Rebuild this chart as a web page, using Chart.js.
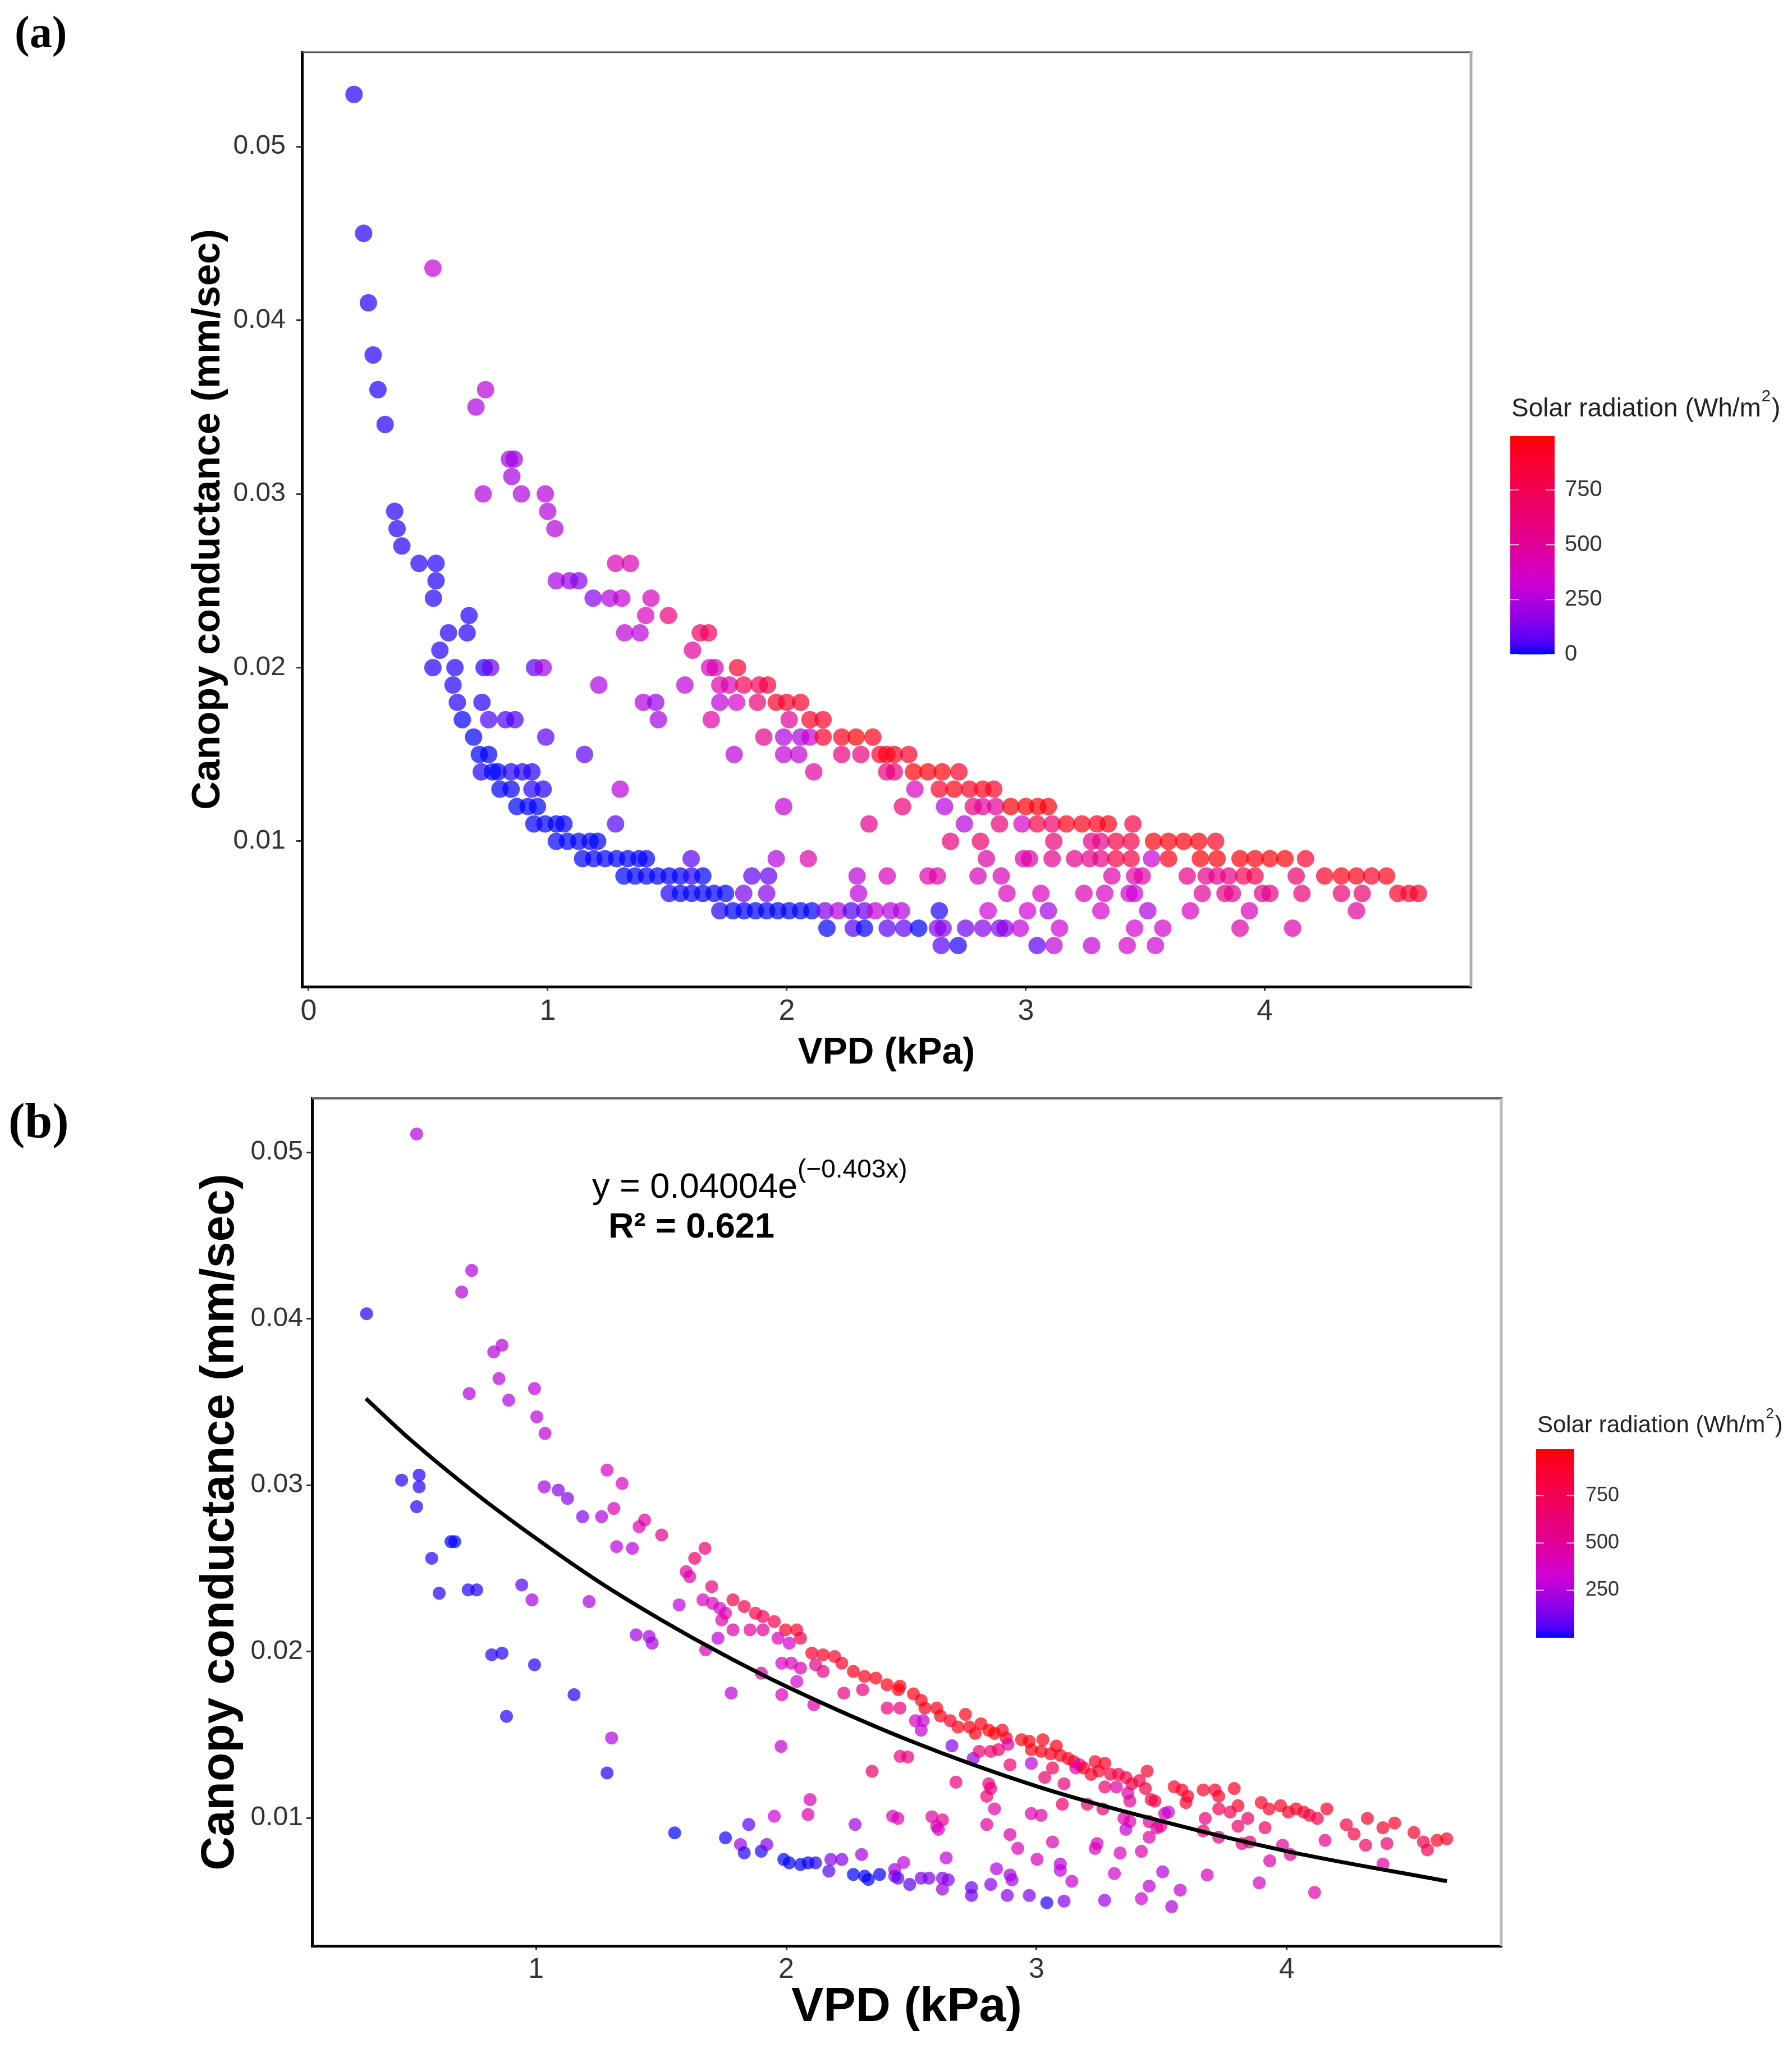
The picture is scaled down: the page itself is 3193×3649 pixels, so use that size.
<!DOCTYPE html>
<html><head><meta charset="utf-8">
<script src="https://cdn.jsdelivr.net/npm/chart.js@4.4.0/dist/chart.umd.min.js"></script>
<style>
html,body{margin:0;padding:0;background:#fff;width:3193px;height:3649px;overflow:hidden;}
.w{position:absolute;left:0;}
#wa{top:0;width:3193px;height:1950px;}
#wb{top:1880px;width:3193px;height:1769px;}
</style></head><body>
<div class="w" id="wa"><canvas id="ca" width="3193" height="1950" style="width:3193px;height:1950px"></canvas></div>
<div class="w" id="wb"><canvas id="cb" width="3193" height="1769" style="width:3193px;height:1769px"></canvas></div>
<script>
// ---------- tick labels ----------
const xTicksA = [0, 1, 2, 3, 4];
const xTicksB = [1, 2, 3, 4];
const yTicks = [0.01, 0.02, 0.03, 0.04, 0.05];
const radTicksA = [0, 250, 500, 750];
const radTicksB = [250, 500, 750];

// ---------- panel (a): VPD (kPa), canopy conductance (mm/sec), solar radiation (Wh/m2) ----------
const aVpd = [
 0.19, 0.23, 0.52, 0.25, 0.27, 0.29,0.74, 0.70, 0.32, 0.84,0.86, 0.85, 0.73,0.89,0.99, 0.36,1.00, 0.37,1.03, 0.39,
 0.462,0.533,1.284,1.346,
 0.533,1.036,1.091,1.13,
 0.522,1.19,1.26,1.31,1.432,
 0.671,1.41,1.505,
 0.585,0.663,1.322,1.386,1.638,1.673,
 0.549,1.606,
 0.52,0.612,0.734,0.761,0.945,0.981,1.677,1.70,1.794,
 0.604,1.214,1.574,1.72,1.76,1.82,1.885,1.92,
 0.622,0.725,1.40,1.452,1.72,1.79,1.877,1.956,2.0,2.058,
 0.643,0.753,0.824,0.863,1.463,1.684,2.01,2.097,2.152,
 0.69,0.992,1.904,1.987,2.058,2.097,2.152,2.23,2.29,2.36,
 0.714,0.753,1.154,1.78,1.987,2.05,2.23,2.31,2.39,2.418,2.45,2.51,
 0.722,0.769,0.792,0.847,0.894,0.934,2.113,2.418,2.45,2.53,2.59,2.65,2.72,
 0.80,0.847,0.934,0.981,1.303,2.536,2.638,2.70,2.764,2.82,2.866,
 0.871,0.918,0.957,1.987,2.484,2.66,2.78,2.82,2.874,2.937,3.0,3.05,3.094,
 0.942,0.989,1.036,1.068,1.284,2.344,2.743,2.89,2.984,3.047,3.11,3.17,3.235,3.298,3.345,3.448,
 1.036,1.083,1.13,1.177,1.209,2.685,2.81,3.117,3.275,3.314,3.377,3.44,3.534,3.597,3.66,3.723,3.794,
 1.146,1.193,1.24,1.288,1.335,1.382,1.413,1.60,1.956,2.09,2.835,2.99,3.015,3.11,3.204,3.267,3.314,3.377,3.44,3.526,3.597,3.73,3.80,3.896,3.959,4.021,4.084,4.17,
 1.319,1.366,1.413,1.46,1.508,1.555,1.602,1.649,1.854,1.924,2.294,2.42,2.591,2.63,2.80,2.897,3.36,3.455,3.487,3.675,3.754,3.80,3.849,3.911,3.959,4.131,4.25,4.32,4.383,4.446,4.509,
 1.508,1.555,1.602,1.649,1.696,1.744,1.82,1.916,2.30,2.921,3.063,3.243,3.33,3.432,3.455,3.738,3.833,3.864,3.99,4.021,4.155,4.32,4.407,4.556,4.603,4.642,
 1.72,1.775,1.822,1.869,1.916,1.963,2.01,2.058,2.105,2.16,2.215,2.27,2.325,2.37,2.434,2.48,2.638,2.842,3.007,3.094,3.314,3.51,3.688,3.935,4.383,
 2.168,2.278,2.325,2.42,2.49,2.552,2.63,2.654,2.748,2.82,2.89,2.913,2.976,3.141,3.455,3.573,3.896,4.116,
 2.646,2.717,3.047,3.118,3.275,3.424,3.542
];
const aGc = [
 0.053, 0.045, 0.043, 0.041, 0.038, 0.036,0.036, 0.035, 0.034, 0.032,0.032, 0.031, 0.030,0.030,0.030, 0.029,0.029, 0.028,0.028, 0.027,
 0.026,0.026,0.026,0.026,
 0.025,0.025,0.025,0.025,
 0.024,0.024,0.024,0.024,0.024,
 0.023,0.023,0.023,
 0.022,0.022,0.022,0.022,0.022,0.022,
 0.021,0.021,
 0.020,0.020,0.020,0.020,0.020,0.020,0.020,0.020,0.020,
 0.019,0.019,0.019,0.019,0.019,0.019,0.019,0.019,
 0.018,0.018,0.018,0.018,0.018,0.018,0.018,0.018,0.018,0.018,
 0.017,0.017,0.017,0.017,0.017,0.017,0.017,0.017,0.017,
 0.016,0.016,0.016,0.016,0.016,0.016,0.016,0.016,0.016,0.016,
 0.015,0.015,0.015,0.015,0.015,0.015,0.015,0.015,0.015,0.015,0.015,0.015,
 0.014,0.014,0.014,0.014,0.014,0.014,0.014,0.014,0.014,0.014,0.014,0.014,0.014,
 0.013,0.013,0.013,0.013,0.013,0.013,0.013,0.013,0.013,0.013,0.013,
 0.012,0.012,0.012,0.012,0.012,0.012,0.012,0.012,0.012,0.012,0.012,0.012,0.012,
 0.011,0.011,0.011,0.011,0.011,0.011,0.011,0.011,0.011,0.011,0.011,0.011,0.011,0.011,0.011,0.011,
 0.010,0.010,0.010,0.010,0.010,0.010,0.010,0.010,0.010,0.010,0.010,0.010,0.010,0.010,0.010,0.010,0.010,
 0.009,0.009,0.009,0.009,0.009,0.009,0.009,0.009,0.009,0.009,0.009,0.009,0.009,0.009,0.009,0.009,0.009,0.009,0.009,0.009,0.009,0.009,0.009,0.009,0.009,0.009,0.009,0.009,
 0.008,0.008,0.008,0.008,0.008,0.008,0.008,0.008,0.008,0.008,0.008,0.008,0.008,0.008,0.008,0.008,0.008,0.008,0.008,0.008,0.008,0.008,0.008,0.008,0.008,0.008,0.008,0.008,0.008,0.008,0.008,
 0.007,0.007,0.007,0.007,0.007,0.007,0.007,0.007,0.007,0.007,0.007,0.007,0.007,0.007,0.007,0.007,0.007,0.007,0.007,0.007,0.007,0.007,0.007,0.007,0.007,0.007,
 0.006,0.006,0.006,0.006,0.006,0.006,0.006,0.006,0.006,0.006,0.006,0.006,0.006,0.006,0.006,0.006,0.006,0.006,0.006,0.006,0.006,0.006,0.006,0.006,0.006,
 0.005,0.005,0.005,0.005,0.005,0.005,0.005,0.005,0.005,0.005,0.005,0.005,0.005,0.005,0.005,0.005,0.005,0.005,
 0.004,0.004,0.004,0.004,0.004,0.004,0.004
];
const aRad = [
 10,10,300,10,10,10,280,250,10,230,200,220,250,250,260,10,260,10,260,10,
 10,10,420,420,
 10,230,180,150,
 10,150,250,300,400,
 10,380,600,
 10,10,280,280,700,700,
 10,480,
 10,10,10,100,60,220,380,430,900,
 10,250,280,450,430,750,750,800,
 10,10,250,180,280,350,600,900,900,900,
 0,50,50,50,230,450,500,900,900,
 0,60,550,250,250,300,900,950,980,950,
 0,0,70,280,300,300,600,600,900,950,950,900,
 10,0,0,10,10,10,500,600,600,980,980,980,900,
 0,0,10,10,270,380,900,950,900,950,900,
 0,0,0,300,600,270,600,500,500,980,980,980,980,
 0,0,0,0,60,550,270,600,350,800,650,950,950,950,950,800,
 0,0,0,0,0,600,650,600,550,550,800,800,980,980,980,980,900,
 0,0,0,0,0,0,0,60,250,450,450,450,450,550,550,550,550,800,800,300,950,980,980,980,980,980,980,900,
 0,0,0,0,0,0,10,0,80,80,280,400,450,450,400,400,450,450,450,550,550,550,550,750,750,650,900,950,950,900,950,
 10,0,0,0,0,0,130,150,280,380,380,420,380,330,330,500,550,550,550,550,600,600,650,900,900,900,
 10,0,0,0,0,0,0,0,0,130,250,50,90,300,250,250,10,330,330,220,350,250,380,400,500,
 0,60,0,70,70,0,150,150,100,150,150,150,300,330,330,350,450,450,
 60,5,60,300,300,350,330
];

// ---------- panel (b) ----------
const bVpd = [
 0.523,0.323,0.743,0.703,0.831,0.864,0.852,0.733,0.891,0.994,1.003,1.036,0.463,0.533,0.533,0.523,
 1.033,1.089,1.126,1.186,1.262,1.284,1.344,1.311,1.412,1.434,1.502,1.322,1.385,0.660,0.675,0.583,
 0.613,0.729,0.763,0.943,0.984,1.212,0.823,0.864,0.994,1.152,0.882,1.302,1.284,1.400,1.452,1.464,
 1.572,1.600,1.614,1.634,1.675,1.702,1.667,1.705,1.735,1.757,1.727,1.678,1.787,1.832,1.877,1.907,
 1.952,1.997,2.042,2.057,1.742,1.787,1.855,1.907,1.967,2.012,1.982,2.020,2.057,2.042,2.102,2.147,
 2.193,2.222,2.268,2.313,2.358,2.403,2.448,2.117,2.147,2.230,2.305,2.403,1.982,1.900,1.780,2.110,
 1.979,2.343,2.095,2.087,1.952,2.425,2.455,1.554,1.757,1.850,1.817,1.832,1.900,1.922,1.990,2.012,
 2.057,2.087,2.117,2.178,2.222,2.170,2.275,2.301,2.268,2.313,2.328,2.373,2.433,2.433,
 2.454,2.508,2.539,2.554,2.454,2.516,2.547,2.539,2.601,2.616,2.655,2.686,2.716,2.732,2.755,2.778,
 2.809,2.832,2.863,2.879,2.662,2.747,2.485,2.771,2.817,2.848,2.886,2.894,2.940,2.971,3.025,2.979,
 3.018,3.056,3.079,3.095,3.126,3.149,2.979,3.033,3.064,3.110,3.157,3.172,3.188,3.218,3.234,3.249,
 3.273,3.273,3.296,3.327,3.357,3.381,3.411,3.442,3.435,3.458,3.473,3.319,3.365,3.373,3.203,3.265,
 3.103,3.349,3.373,3.357,3.450,3.481,3.496,3.512,3.450,3.419,3.527,3.550,3.581,3.604,3.597,3.666,
 3.713,3.728,3.790,3.805,3.728,3.774,3.674,3.666,3.728,3.821,3.852,3.805,3.844,3.898,3.929,3.975,
 4.006,4.037,4.068,4.091,4.122,4.160,3.913,3.983,4.014,3.932,4.153,4.238,4.269,4.322,4.315,4.384,
 4.431,4.400,4.384,4.508,4.546,4.562,4.600,4.639,
 2.446,2.582,2.624,2.601,2.608,2.801,2.832,2.809,2.817,2.801,2.678,2.979,3.018,2.894,2.925,3.064,
 3.242,3.234,3.334,3.002,3.095,3.095,3.141,2.469,2.639,2.840,2.894,2.902,2.817,2.446,2.493,2.539,
 2.570,2.624,2.647,2.624,2.740,2.740,2.883,2.971,3.041,3.110,3.272,3.311,3.419,3.450,3.504,3.540,
 3.574,3.682,3.890,4.111
];
const bGc = [
 0.0511,0.0403,0.0429,0.0416,0.0380,0.0384,0.0364,0.0355,0.0351,0.0358,0.0341,0.0331,0.0303,0.0306,0.0299,0.0287,
 0.0299,0.0297,0.0292,0.0281,0.0281,0.0309,0.0301,0.0286,0.0275,0.0279,0.0270,0.0263,0.0262,0.0266,0.0266,0.0256,
 0.0235,0.0237,0.0237,0.0240,0.0231,0.0230,0.0198,0.0199,0.0192,0.0174,0.0161,0.0148,0.0127,0.0210,0.0209,0.0205,
 0.0228,0.0248,0.0245,0.0256,0.0262,0.0239,0.0231,0.0229,0.0226,0.0223,0.0208,0.0201,0.0231,0.0227,0.0223,0.0221,
 0.0218,0.0213,0.0213,0.0208,0.0219,0.0213,0.0213,0.0213,0.0208,0.0205,0.0193,0.0193,0.0190,0.0182,0.0199,0.0198,
 0.0197,0.0193,0.0188,0.0185,0.0184,0.0180,0.0177,0.0192,0.0188,0.0175,0.0177,0.0166,0.0174,0.0187,0.0175,0.0168,
 0.0143,0.0128,0.0111,0.0102,0.0101,0.0101,0.0137,0.0091,0.0088,0.0096,0.0084,0.0079,0.0080,0.0084,0.0075,0.0073,
 0.0072,0.0073,0.0073,0.0075,0.0075,0.0068,0.0096,0.0078,0.0066,0.0065,0.0063,0.0066,0.0069,0.0065,
 0.01792,0.01745,0.01707,0.0166,0.0166,0.01584,0.01584,0.01527,0.0166,0.01613,0.01584,0.01546,0.01622,0.01546,0.01508,0.01565,
 0.01527,0.01508,0.01527,0.0148,0.01433,0.01357,0.01366,0.0140,0.0140,0.0141,0.01442,0.01319,0.0147,0.0146,0.0147,0.0141,
 0.0140,0.01385,0.01432,0.01376,0.01357,0.01338,0.01328,0.01243,0.0130,0.01205,0.0130,0.01319,0.0130,0.01262,0.01338,0.01281,
 0.01328,0.01186,0.01262,0.01262,0.01243,0.01205,0.01224,0.01281,0.01177,0.0111,0.01101,0.01186,0.01149,0.01101,0.01082,0.01054,
 0.01082,0.00997,0.00978,0.00931,0.00978,0.0094,0.0095,0.01026,0.00884,0.00799,0.01035,0.01187,0.01168,0.0113,0.01092,0.01168,
 0.01168,0.0113,0.01177,0.01073,0.01054,0.01035,0.00997,0.00922,0.00884,0.00846,0.00855,0.0095,0.00997,0.01092,0.01054,0.01073,
 0.01035,0.01054,0.01035,0.01016,0.00997,0.01054,0.00941,0.00836,0.0078,0.00742,0.00865,0.00959,0.00903,0.00997,0.00836,0.00941,
 0.00969,0.00846,0.00723,0.00912,0.00855,0.00808,0.00865,0.00874,
 0.00997,0.01007,0.00988,0.0095,0.00931,0.0096,0.01054,0.01205,0.01177,0.0113,0.01215,0.01026,0.01016,0.0090,0.00817,0.00855,
 0.00846,0.00817,0.00789,0.00751,0.00723,0.00685,0.00619,0.00732,0.0076,0.00694,0.00657,0.00628,0.0060,0.00638,0.0060,0.00638,
 0.00638,0.00638,0.00628,0.00572,0.00581,0.00534,0.00534,0.00534,0.0049,0.0050,0.00505,0.00666,0.00515,0.0059,0.00676,0.00467,
 0.00566,0.00657,0.0061,0.00552
];
const bRad = [
 250,10,250,250,270,270,270,250,260,280,280,280,10,10,10,10,
 220,150,150,150,250,380,380,420,420,450,550,280,280,0,0,10,
 10,10,10,60,220,250,10,10,10,10,10,250,10,220,220,220,
 280,450,450,650,650,600,380,380,380,380,280,400,800,800,800,750,
 800,900,900,800,450,450,500,500,400,350,380,420,450,350,900,900,
 900,900,950,950,950,950,950,550,550,600,600,600,420,450,280,450,
 300,650,420,450,320,400,600,0,5,60,200,10,10,150,0,0,
 0,0,10,150,150,60,220,220,0,0,0,0,200,200,
 950,950,950,950,600,400,300,300,950,950,900,950,950,950,950,950,
 980,980,950,950,150,180,600,600,650,650,450,650,980,980,950,950,
 950,950,950,950,900,900,280,650,750,600,450,450,900,900,900,900,
 900,650,800,800,800,800,800,900,800,800,800,450,450,500,600,600,
 650,450,450,300,500,500,500,450,450,450,300,900,900,900,900,900,
 900,900,900,900,750,750,600,600,550,600,600,650,650,900,900,900,
 900,900,900,800,750,900,700,500,500,450,550,800,800,900,700,900,
 900,650,450,900,800,750,900,900,
 400,450,550,400,400,500,450,600,600,600,600,450,450,450,430,430,
 400,400,400,400,280,280,300,300,300,250,250,220,150,60,60,130,
 130,150,150,200,100,100,150,130,10,160,200,350,320,300,270,250,
 300,400,400,450
];

// ---------- fitted curve y = 0.04004 e^(-0.403x) ----------
const fitVpd = [0.32, 0.5, 0.75, 1.0, 1.25, 1.5, 1.75, 2.0, 2.5, 3.0, 3.5, 4.0, 4.64];
const fitGc  = [0.0352, 0.0327, 0.0296, 0.0268, 0.0242, 0.0219, 0.0198, 0.0179, 0.0146, 0.0119, 0.0098, 0.0080, 0.0062];

// ---------- colour scale (Lab interpolation blue -> red, slightly brightened) ----------
const RAD_MAX = 995;
function toLab(r,g,b){
  const f=c=>{c/=255;return c<=0.04045?c/12.92:Math.pow((c+0.055)/1.055,2.4);};
  const R=f(r),G=f(g),B=f(b);
  const X=(R*0.4124564+G*0.3575761+B*0.1804375)/0.95047;
  const Y=(R*0.2126729+G*0.7151522+B*0.0721750);
  const Z=(R*0.0193339+G*0.1191920+B*0.9503041)/1.08883;
  const h=t=>t>0.008856?Math.cbrt(t):(7.787*t+16/116);
  const fx=h(X),fy=h(Y),fz=h(Z);
  return [116*fy-16,500*(fx-fy),200*(fy-fz)];
}
function fromLab(L,a,b){
  const fy=(L+16)/116,fx=fy+a/500,fz=fy-b/200;
  const hi=t=>{const t3=t*t*t;return t3>0.008856?t3:(t-16/116)/7.787;};
  const X=hi(fx)*0.95047,Y=hi(fy),Z=hi(fz)*1.08883;
  const R=X*3.2404542+Y*-1.5371385+Z*-0.4985314;
  const G=X*-0.9692660+Y*1.8760108+Z*0.0415560;
  const B=X*0.0556434+Y*-0.2040259+Z*1.0572252;
  const g=c=>{c=c<=0.0031308?12.92*c:1.055*Math.pow(Math.max(c,0),1/2.4)-0.055;return Math.min(1,Math.max(0,c))*255;};
  return [g(R),g(G),g(B)];
}
const LAB_LO=toLab(0,0,255), LAB_HI=toLab(255,0,0);
function radColor(v,alpha){
  const t=Math.max(0,Math.min(1,v/RAD_MAX));
  let c=fromLab(LAB_LO[0]+t*(LAB_HI[0]-LAB_LO[0]),LAB_LO[1]+t*(LAB_HI[1]-LAB_LO[1]),LAB_LO[2]+t*(LAB_HI[2]-LAB_LO[2]));
  const m=Math.max(c[0],c[1],c[2],1);
  const k=1+0.45*(255/m-1);
  c=c.map(x=>Math.round(Math.min(255,x*k)));
  return `rgba(${c[0]},${c[1]},${c[2]},${alpha})`;
}

const SANS="'Liberation Sans', Arial, sans-serif";
const SERIF="'Liberation Serif','Times New Roman', serif";

// ---------- decoration plugin: frame, panel letter, colour bar, equation ----------
const deco = {
  id:'deco',
  afterDraw(chart, args, o){
    const ctx=chart.ctx, ca=chart.chartArea, oy=o.offsetY;
    ctx.save();
    ctx.lineCap='butt';
    ctx.strokeStyle=o.topColor; ctx.lineWidth=o.topWidth;
    ctx.beginPath(); ctx.moveTo(ca.left,ca.top); ctx.lineTo(ca.right+o.rightWidth/2,ca.top); ctx.stroke();
    ctx.strokeStyle=o.rightColor; ctx.lineWidth=o.rightWidth;
    ctx.beginPath(); ctx.moveTo(ca.right,ca.top); ctx.lineTo(ca.right,ca.bottom); ctx.stroke();
    // panel letter
    ctx.fillStyle='#000'; ctx.textAlign='left'; ctx.textBaseline='alphabetic';
    ctx.font=`bold ${o.labelSize}px ${SERIF}`;
    ctx.fillText(o.label,o.labelX,o.labelY-oy);
    // colour bar
    const cb=o.cbar;
    const x0=cb.x0,x1=cb.x1,yT=cb.yTop-oy,yB=cb.yBot-oy;
    const grad=ctx.createLinearGradient(0,yB,0,yT);
    for(let i=0;i<=20;i++){ grad.addColorStop(i/20, radColor(i/20*RAD_MAX,1)); }
    ctx.fillStyle=grad; ctx.fillRect(x0,yT,x1-x0,yB-yT);
    const bw=x1-x0;
    ctx.strokeStyle='rgba(255,255,255,0.75)'; ctx.lineWidth=2;
    ctx.font=`${cb.labelSize}px ${SANS}`; ctx.textBaseline='middle'; ctx.fillStyle='#333';
    cb.ticks.forEach(v=>{
      const y=yB-(v/RAD_MAX)*(yB-yT);
      ctx.beginPath(); ctx.moveTo(x0,y); ctx.lineTo(x0+bw/5,y); ctx.moveTo(x1-bw/5,y); ctx.lineTo(x1,y); ctx.stroke();
      ctx.fillText(String(v),cb.labelX,y);
    });
    // colour bar title
    const ty=cb.titleY-oy;
    ctx.fillStyle='#222';
    ctx.font=`${cb.titleSize}px ${SANS}`;
    const t1='Solar radiation (Wh/m';
    ctx.fillText(t1,cb.titleX,ty);
    let w=ctx.measureText(t1).width;
    ctx.font=`${Math.round(cb.titleSize*0.62)}px ${SANS}`;
    ctx.fillText('2',cb.titleX+w+1,ty-cb.titleSize*0.48);
    w+=ctx.measureText('2').width+3;
    ctx.font=`${cb.titleSize}px ${SANS}`;
    ctx.fillText(')',cb.titleX+w,ty);
    // equation
    if(o.eq){
      const e=o.eq;
      ctx.fillStyle='#000'; ctx.textBaseline='alphabetic';
      ctx.font=`${e.size}px ${SANS}`;
      ctx.fillText(e.main,e.x,e.y-oy);
      const mw=ctx.measureText(e.main).width;
      ctx.font=`${e.supSize}px ${SANS}`;
      ctx.fillText(e.sup,e.x+mw,e.y-oy-e.supRaise);
      ctx.font=`bold ${e.size}px ${SANS}`;
      ctx.fillText(e.r2,e.r2x,e.r2y-oy);
    }
    ctx.restore();
  }
};

function makeChart(id, cfg){
  const pts=cfg.vpd.map((x,i)=>({x:x,y:cfg.gc[i]}));
  const datasets=[{
    type:'scatter', data:pts, order:2,
    backgroundColor:cfg.rad.map(v=>radColor(v,0.7)),
    borderWidth:0, pointRadius:cfg.radius, pointHoverRadius:cfg.radius, pointBorderWidth:0
  }];
  if(cfg.fit){
    datasets.push({type:'line', data:cfg.fit.x.map((x,i)=>({x:x,y:cfg.fit.y[i]})), order:1,
      borderColor:'#000', borderWidth:7, pointRadius:0, fill:false, cubicInterpolationMode:'monotone'});
  }
  return new Chart(document.getElementById(id),{
    data:{datasets},
    plugins:[deco],
    options:{
      responsive:false, animation:false, devicePixelRatio:1,
      layout:{padding:{left:0,top:cfg.padTop,right:cfg.padRight,bottom:0}},
      plugins:{legend:{display:false},tooltip:{enabled:false},deco:cfg.deco},
      scales:{
        x:{type:'linear',min:cfg.xmin,max:cfg.xmax,
          afterBuildTicks:s=>{s.ticks=cfg.xTicks.map(v=>({value:v}));},
          afterFit:s=>{s.height=cfg.xAxisH; s.paddingLeft=0; s.paddingRight=0;},
          grid:{drawOnChartArea:false,drawTicks:true,tickLength:7,color:'#333',lineWidth:3},
          border:{display:true,color:'#000',width:5},
          ticks:{padding:6,color:'#333',font:{family:SANS,size:cfg.xTickSize},callback:v=>String(v),maxRotation:0,autoSkip:false},
          title:{display:true,text:'VPD (kPa)',color:'#000',font:{family:SANS,size:cfg.xTitleSize,weight:'bold'},padding:{top:0,bottom:cfg.xTitlePad}}
        },
        y:{type:'linear',min:cfg.ymin,max:cfg.ymax,
          afterBuildTicks:s=>{s.ticks=yTicks.map(v=>({value:v}));},
          afterFit:s=>{s.width=cfg.yAxisW; s.paddingTop=0; s.paddingBottom=0;},
          grid:{drawOnChartArea:false,drawTicks:true,tickLength:10,color:'#333',lineWidth:3},
          border:{display:true,color:'#000',width:5},
          ticks:{padding:cfg.yTickPad,color:'#333',font:{family:SANS,size:cfg.yTickSize},callback:v=>v.toFixed(2),autoSkip:false},
          title:{display:true,text:'Canopy conductance (mm/sec)',color:'#000',font:{family:SANS,size:cfg.yTitleSize,weight:'bold'},padding:{top:cfg.yTitlePad,bottom:0}}
        }
      }
    }
  });
}

makeChart('ca',{
  vpd:aVpd, gc:aGc, rad:aRad, radius:15.5,
  xmin:-0.028, xmax:4.862, ymin:0.00163, ymax:0.05543, xTicks:xTicksA,
  padTop:93, padRight:572, xAxisH:192, yAxisW:538,
  xTickSize:52, yTickSize:48, yTickPad:19, xTitleSize:66, xTitlePad:34, yTitleSize:70, yTitlePad:330,
  deco:{offsetY:0, topColor:'#555', topWidth:3, rightColor:'#b0b0b0', rightWidth:5,
    label:'(a)', labelSize:80, labelX:26, labelY:84,
    cbar:{x0:2691,x1:2770,yTop:777,yBot:1166,ticks:radTicksA,labelX:2788,labelSize:40,titleX:2693,titleY:729,titleSize:46}}
});

makeChart('cb',{
  vpd:bVpd, gc:bGc, rad:bRad, radius:11.5,
  xmin:0.105, xmax:4.857, ymin:0.00231, ymax:0.05324, xTicks:xTicksB,
  fit:{x:fitVpd,y:fitGc},
  padTop:77, padRight:518, xAxisH:182, yAxisW:556,
  xTickSize:50, yTickSize:48, yTickPad:6, xTitleSize:86, xTitlePad:20, yTitleSize:84, yTitlePad:342,
  deco:{offsetY:1880, topColor:'#666', topWidth:4, rightColor:'#bbbbbb', rightWidth:5,
    label:'(b)', labelSize:88, labelX:15, labelY:2027,
    cbar:{x0:2737,x1:2805,yTop:2582,yBot:2918,ticks:radTicksB,labelX:2825,labelSize:36,titleX:2739,titleY:2540,titleSize:42},
    eq:{main:'y = 0.04004e',sup:'(\u22120.403x)',x:1055,y:2134,size:63,supSize:46,supRaise:36,r2:'R\u00b2 = 0.621',r2x:1084,r2y:2205}}
});
</script>
</body></html>
